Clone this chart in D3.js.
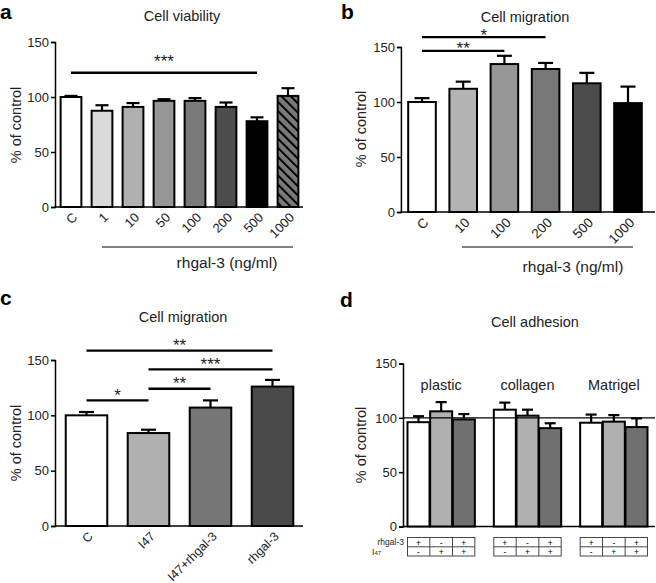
<!DOCTYPE html>
<html>
<head>
<meta charset="utf-8">
<script src="https://cdn.jsdelivr.net/npm/d3@7"></script>
<style>
  body { margin: 0; background: #fff; }
  svg { font-family: Arial, "Liberation Sans", sans-serif; }
</style>
</head>
<body>
<svg id="fig" width="656" height="583"></svg>
<script>
// panel a - cell viability
const aCats = ['C', '1', '10', '50', '100', '200', '500', '1000']
const aVals = [100, 87.5, 91, 96.5, 96.5, 91, 78, 101]
const aErr = [1, 5, 3.5, 1.5, 2.5, 4, 3.5, 7]
const aFills = ['#ffffff', '#dadada', '#b0b0b0', '#969696', '#7a7a7a', '#4c4c4c', '#000000', 'url(#hatch)']
const aSig = [{ from: 'C', to: '500', level: 122, label: '***' }]

// panel b - cell migration (dose)
const bCats = ['C', '10', '100', '200', '500', '1000']
const bVals = [100, 112, 134.5, 130, 117, 99]
const bErr = [3.5, 6.5, 7.5, 5.5, 9.5, 15]
const bFills = ['#ffffff', '#b3b3b3', '#969696', '#787878', '#4c4c4c', '#000000']
const bSig = [
  { from: 'C', to: '100', level: 146.5, label: '**' },
  { from: 'C', to: '200', level: 159, label: '*' }
]

// panel c - cell migration (inhibitor)
const cCats = ['C', 'I47', 'I47+rhgal-3', 'rhgal-3']
const cVals = [100, 84, 107, 126]
const cErr = [3, 3, 6.5, 6]
const cFills = ['#ffffff', '#b0b0b0', '#767676', '#4a4a4a']
const cSig = [
  { from: 'C', to: 'rhgal-3', level: 158.5, label: '**' },
  { from: 'I47', to: 'rhgal-3', level: 141.5, label: '***' },
  { from: 'I47', to: 'I47+rhgal-3', level: 124, label: '**' },
  { from: 'C', to: 'I47', level: 113.5, label: '*' }
]

// panel d - cell adhesion
const dGroups = ['plastic', 'collagen', 'Matrigel']
const dConds = ['rhgal-3', 'I47', 'I47+rhgal-3']
const dVals = [[96, 106, 98.5], [107.5, 102, 90.5], [95.5, 96.5, 91.5]]
const dErr = [[5.5, 8.5, 5], [6.5, 5.5, 4.5], [7.5, 6, 8]]
const dFills = ['#ffffff', '#b0b0b0', '#707070']
const rowRhgal = ['+', '-', '+']
const rowI47 = ['-', '+', '+']

const yTicks = [0, 50, 100, 150]

const svg = d3.select('#fig')

const defs = svg.append('defs')
const hatch = defs.append('pattern')
  .attr('id', 'hatch')
  .attr('patternUnits', 'userSpaceOnUse')
  .attr('width', 6.5).attr('height', 6.5)
  .attr('patternTransform', 'rotate(-45)')
hatch.append('rect').attr('width', 6.5).attr('height', 6.5).attr('fill', '#7a7a7a')
hatch.append('line').attr('x1', 1).attr('x2', 1).attr('y1', 0).attr('y2', 6.5)
  .attr('stroke', '#000').attr('stroke-width', 2)

function yAxis(g, yScale, x) {
  const ax = g.append('g')
    .attr('transform', `translate(${x},0)`)
    .call(d3.axisLeft(yScale).tickValues(yTicks).tickSize(4).tickPadding(2))
  ax.select('.domain').attr('stroke', '#000').attr('stroke-width', 1.5)
  ax.selectAll('.tick line').attr('stroke', '#000').attr('stroke-width', 1.5)
  ax.selectAll('.tick text').attr('font-size', 13).attr('fill', '#222')
    .attr('font-family', 'Arial, "Liberation Sans", sans-serif')
}

function yLabel(x, y) {
  svg.append('text')
    .attr('transform', `translate(${x},${y}) rotate(-90)`)
    .attr('text-anchor', 'middle')
    .attr('font-size', 14.5)
    .attr('fill', '#222')
    .text('% of control')
}

function text(x, y, s, size, opts = {}) {
  return svg.append('text')
    .attr('x', x).attr('y', y)
    .attr('text-anchor', opts.anchor || 'middle')
    .attr('font-size', size)
    .attr('font-weight', opts.bold ? 'bold' : 'normal')
    .attr('fill', opts.fill || '#222')
    .text(s)
}

// simple bar panel with rotated category labels
function barPanel(p) {
  const g = svg.append('g')
  const x = d3.scaleBand().domain(p.cats).range(p.xRange).paddingInner(0.33).paddingOuter(0.165)
  const y = d3.scaleLinear().domain([0, 150]).range(p.yRange)

  // x axis line
  g.append('line')
    .attr('x1', p.xRange[0] - 1).attr('x2', p.axisEnd)
    .attr('y1', y(0)).attr('y2', y(0))
    .attr('stroke', '#000').attr('stroke-width', 1.5)

  // error bars (upper only)
  const capW = p.capW
  p.cats.forEach((c, i) => {
    const cx = x(c) + x.bandwidth() / 2
    g.append('line').attr('x1', cx).attr('x2', cx)
      .attr('y1', y(p.vals[i])).attr('y2', y(p.vals[i] + p.errs[i]))
      .attr('stroke', '#000').attr('stroke-width', 2.2)
    g.append('line').attr('x1', cx - capW / 2).attr('x2', cx + capW / 2)
      .attr('y1', y(p.vals[i] + p.errs[i])).attr('y2', y(p.vals[i] + p.errs[i]))
      .attr('stroke', '#000').attr('stroke-width', 2.2)
  })

  g.selectAll('rect.bar')
    .data(p.cats)
    .enter()
    .append('rect')
    .attr('class', 'bar')
    .attr('x', d => x(d))
    .attr('y', (d, i) => y(p.vals[i]))
    .attr('width', x.bandwidth())
    .attr('height', (d, i) => y(0) - y(p.vals[i]))
    .attr('fill', (d, i) => p.fills[i])
    .attr('stroke', '#000')
    .attr('stroke-width', 2)

  yAxis(g, y, p.xRange[0] - 0.5)

  // rotated category labels
  g.selectAll('text.cat')
    .data(p.cats)
    .enter()
    .append('text')
    .attr('class', 'cat')
    .attr('transform', d => `translate(${x(d) + x.bandwidth() / 2 + 4},${y(0) + 8}) rotate(-45)`)
    .attr('text-anchor', 'end')
    .attr('dy', '0.35em')
    .attr('font-size', p.catSize)
    .attr('fill', '#222')
    .text(d => d)

  // significance bars
  p.sig.forEach(s => {
    const x1 = x(s.from) + x.bandwidth() / 2
    const x2 = x(s.to) + x.bandwidth() / 2
    g.append('line').attr('x1', x1).attr('x2', x2)
      .attr('y1', y(s.level)).attr('y2', y(s.level))
      .attr('stroke', '#000').attr('stroke-width', 2.4)
    g.append('text')
      .attr('x', (x1 + x2) / 2)
      .attr('y', y(s.level) - p.starGap + 10)
      .attr('text-anchor', 'middle')
      .attr('font-size', 17)
      .attr('fill', '#222')
      .text(s.label)
  })
  return { x, y }
}

// ---- panel a
barPanel({
  cats: aCats, vals: aVals, errs: aErr, fills: aFills, sig: aSig,
  xRange: [55.5, 303.5], yRange: [207, 42], axisEnd: 303, capW: 13, catSize: 13, starGap: 16
})
text(0, 19, 'a', 21, { anchor: 'start', bold: true, fill: '#000' })
text(182, 21, 'Cell viability', 14.5)
yLabel(21, 125)
svg.append('line').attr('x1', 102).attr('x2', 293).attr('y1', 247).attr('y2', 247)
  .attr('stroke', '#000').attr('stroke-width', 1)
text(227, 268, 'rhgal-3 (ng/ml)', 15.5)

// ---- panel b
barPanel({
  cats: bCats, vals: bVals, errs: bErr, fills: bFills, sig: bSig,
  xRange: [401.4, 648.6], yRange: [212, 47], axisEnd: 655, capW: 15, catSize: 13.5, starGap: 6.5
})
text(341, 19, 'b', 21, { anchor: 'start', bold: true, fill: '#000' })
text(525, 22, 'Cell migration', 14.5)
yLabel(366, 129)
svg.append('line').attr('x1', 462).attr('x2', 633).attr('y1', 247).attr('y2', 247)
  .attr('stroke', '#000').attr('stroke-width', 1)
text(573, 272, 'rhgal-3 (ng/ml)', 15.5)

// ---- panel c
barPanel({
  cats: cCats, vals: cVals, errs: cErr, fills: cFills, sig: cSig,
  xRange: [55.5, 303.5], yRange: [526, 360], axisEnd: 303, capW: 15, catSize: 12.5, starGap: 9.5
})
text(0, 305, 'c', 21, { anchor: 'start', bold: true, fill: '#000' })
text(183, 322, 'Cell migration', 14.5)
yLabel(21, 443)

// ---- panel d (grouped)
const gD = svg.append('g')
const x0 = d3.scaleBand().domain(dGroups).range([398, 657]).paddingInner(0.22).paddingOuter(0.11)
const x1 = d3.scaleBand().domain(dConds).range([0, x0.bandwidth()]).paddingInner(0.03)
const yD = d3.scaleLinear().domain([0, 150]).range([526.5, 363.5])

gD.append('line').attr('x1', 403).attr('x2', 655).attr('y1', yD(0)).attr('y2', yD(0))
  .attr('stroke', '#000').attr('stroke-width', 1.5)

dGroups.forEach((grp, gi) => {
  const gg = gD.append('g').attr('transform', `translate(${x0(grp)},0)`)
  dConds.forEach((c, ci) => {
    const cx = x1(c) + x1.bandwidth() / 2
    const v = dVals[gi][ci], e = dErr[gi][ci]
    gg.append('line').attr('x1', cx).attr('x2', cx).attr('y1', yD(v)).attr('y2', yD(v + e))
      .attr('stroke', '#000').attr('stroke-width', 2.2)
    gg.append('line').attr('x1', cx - 5.5).attr('x2', cx + 5.5).attr('y1', yD(v + e)).attr('y2', yD(v + e))
      .attr('stroke', '#000').attr('stroke-width', 2.2)
  })
  gg.selectAll('rect')
    .data(dConds)
    .enter()
    .append('rect')
    .attr('x', d => x1(d))
    .attr('y', (d, i) => yD(dVals[gi][i]))
    .attr('width', x1.bandwidth())
    .attr('height', (d, i) => yD(0) - yD(dVals[gi][i]))
    .attr('fill', (d, i) => dFills[i])
    .attr('stroke', '#000')
    .attr('stroke-width', 2)

  // group name
  text(x0(grp) + x0.bandwidth() / 2, 390, grp, 14.5)

  // +/- table
  const tTop = 537.5, tMid = 546.8, tBot = 556
  const tb = gg.append('g')
  tb.append('rect').attr('x', 0).attr('y', tTop).attr('width', x0.bandwidth()).attr('height', tBot - tTop)
    .attr('fill', 'none').attr('stroke', '#333').attr('stroke-width', 0.9)
  tb.append('line').attr('x1', 0).attr('x2', x0.bandwidth()).attr('y1', tMid).attr('y2', tMid)
    .attr('stroke', '#333').attr('stroke-width', 0.9)
  dConds.slice(1).forEach(c => {
    const xx = x1(c) - x1.step() * x1.paddingInner() / 2
    tb.append('line').attr('x1', xx).attr('x2', xx).attr('y1', tTop).attr('y2', tBot)
      .attr('stroke', '#333').attr('stroke-width', 0.9)
  })
  dConds.forEach((c, ci) => {
    const cx = x1(c) + x1.bandwidth() / 2
    tb.append('text').attr('x', cx).attr('y', tMid - 1.2).attr('text-anchor', 'middle')
      .attr('font-size', 8.5).attr('fill', '#000').text(rowRhgal[ci])
    tb.append('text').attr('x', cx).attr('y', tBot - 1.2).attr('text-anchor', 'middle')
      .attr('font-size', 8.5).attr('fill', '#000').text(rowI47[ci])
  })
})

// reference line at 100 %
gD.append('line').attr('x1', 403).attr('x2', 655).attr('y1', yD(100)).attr('y2', yD(100))
  .attr('stroke', '#000').attr('stroke-width', 1.2)

yAxis(gD, yD, 403)
text(340, 307, 'd', 21, { anchor: 'start', bold: true, fill: '#000' })
text(535, 327, 'Cell adhesion', 14.5)
yLabel(366, 445)

// table row labels
text(404, 545, 'rhgal-3', 8.5, { anchor: 'end' })
const i47 = text(372, 554.5, 'I', 8.5, { anchor: 'start' })
i47.append('tspan').attr('font-size', 6).text('47')
</script>
</body>
</html>
